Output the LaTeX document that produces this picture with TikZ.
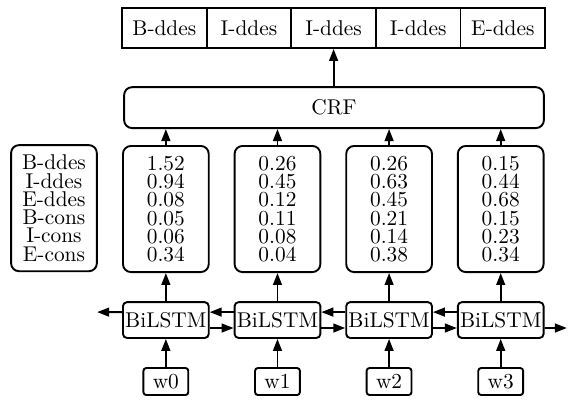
\documentclass[tikz,border=0pt]{standalone}
\usepackage{amsmath,amssymb}
\usetikzlibrary{calc}
\usetikzlibrary{arrows.meta}

\begin{document}
\begin{tikzpicture}[
	every node/.style={font=\fontsize{10.7}{9.15}\selectfont, inner sep=0pt, line width=0.95pt},
	tag/.style={draw, minimum width=1.49cm, minimum height=0.70cm},
	scores/.style={draw, rounded corners=0.14cm, minimum width=1.51cm, minimum height=2.22cm, align=center},
	lstm/.style={draw, rounded corners=0.07cm, minimum width=1.51cm, minimum height=0.63cm},
	word/.style={draw, rounded corners=0.05cm, minimum width=0.79cm, minimum height=0.475cm},
	arr/.style={-{Triangle[length=6pt,width=4.4pt]}, line width=0.95pt}
]
	\useasboundingbox (0,0) rectangle (10,7.025);

	% Output tags
	\node[tag] (t1) at (2.893,6.53) {B-ddes};
	\node[tag] (t2) at (4.383,6.53) {I-ddes};
	\node[tag] (t3) at (5.873,6.53) {I-ddes};
	\node[tag] (t4) at (7.363,6.53) {I-ddes};
	\node[tag] (t5) at (8.853,6.53) {E-ddes};

	% CRF layer
	\node[draw, rounded corners=0.14cm, minimum width=7.39cm, minimum height=0.72cm]
		(crf) at (5.88,5.13) {CRF};

	% Label names and emission scores
	\node[scores] (names) at (0.95,3.36)
		{B-ddes\\I-ddes\\E-ddes\\B-cons\\I-cons\\E-cons};
	\node[scores] (s1) at (2.92,3.345) {1.52\\0.94\\0.08\\0.05\\0.06\\0.34};
	\node[scores] (s2) at (4.885,3.345) {0.26\\0.45\\0.12\\0.11\\0.08\\0.04};
	\node[scores] (s3) at (6.85,3.345) {0.26\\0.63\\0.45\\0.21\\0.14\\0.38};
	\node[scores] (s4) at (8.815,3.345) {0.15\\0.44\\0.68\\0.15\\0.23\\0.34};

	% BiLSTM cells
	\node[lstm] (b1) at (2.92,1.39) {BiLSTM};
	\node[lstm] (b2) at (4.885,1.39) {BiLSTM};
	\node[lstm] (b3) at (6.85,1.39) {BiLSTM};
	\node[lstm] (b4) at (8.815,1.39) {BiLSTM};

	% Input words
	\node[word] (w0) at (2.92,0.308) {w0};
	\node[word] (w1) at (4.885,0.308) {w1};
	\node[word] (w2) at (6.85,0.308) {w2};
	\node[word] (w3) at (8.815,0.308) {w3};

	% Vertical arrows
	\draw[arr] (crf.north -| t3) -- (t3.south);
	\draw[arr] (s1.north) -- (s1.north |- crf.south);
	\draw[arr] (s2.north) -- (s2.north |- crf.south);
	\draw[arr] (s3.north) -- (s3.north |- crf.south);
	\draw[arr] (s4.north) -- (s4.north |- crf.south);
	\draw[arr] (b1) -- (s1);
	\draw[arr] (b2) -- (s2);
	\draw[arr] (b3) -- (s3);
	\draw[arr] (b4) -- (s4);
	\draw[arr] (w0) -- (b1);
	\draw[arr] (w1) -- (b2);
	\draw[arr] (w2) -- (b3);
	\draw[arr] (w3) -- (b4);

	% Backward and forward passes
	\coordinate (lend) at (1.71,1.53);
	\coordinate (rend) at (9.98,1.25);
	\draw[arr] ($(b1.west)+(0,0.14)$) -- (lend);
	\draw[arr] ($(b2.west)+(0,0.14)$) -- ($(b1.east)+(0,0.14)$);
	\draw[arr] ($(b3.west)+(0,0.14)$) -- ($(b2.east)+(0,0.14)$);
	\draw[arr] ($(b4.west)+(0,0.14)$) -- ($(b3.east)+(0,0.14)$);
	\draw[arr] ($(b1.east)+(0,-0.14)$) -- ($(b2.west)+(0,-0.14)$);
	\draw[arr] ($(b2.east)+(0,-0.14)$) -- ($(b3.west)+(0,-0.14)$);
	\draw[arr] ($(b3.east)+(0,-0.14)$) -- ($(b4.west)+(0,-0.14)$);
	\draw[arr] ($(b4.east)+(0,-0.14)$) -- (rend);
\end{tikzpicture}
\end{document}
